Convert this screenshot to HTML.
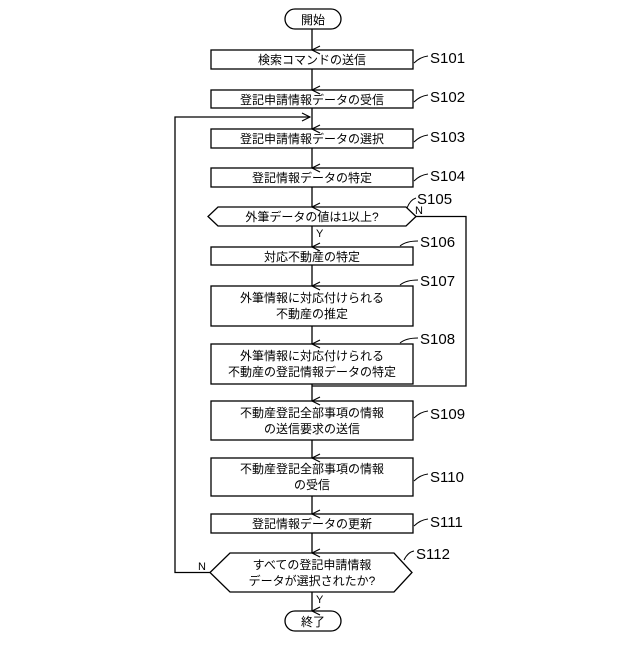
<!DOCTYPE html>
<html><head><meta charset="utf-8"><style>body{margin:0;background:#fff}</style></head><body>
<svg width="640" height="640" xmlns="http://www.w3.org/2000/svg" font-family="'Liberation Sans','Noto Sans CJK JP',sans-serif">
<defs><marker id="a" markerWidth="10" markerHeight="10" refX="5" refY="9" orient="auto" markerUnits="userSpaceOnUse"><path d="M1,1 L5,9 L9,1" fill="none" stroke="#000" stroke-width="1.2"/></marker>
<marker id="r" markerWidth="10" markerHeight="10" refX="9" refY="5" orient="0" markerUnits="userSpaceOnUse"><path d="M1,1 L9,5 L1,9" fill="none" stroke="#000" stroke-width="1.2"/></marker></defs>
<g stroke="#000" stroke-width="1.3" fill="none">
<rect x="285" y="9" width="56" height="20" rx="10"/>
<rect x="285" y="611" width="56" height="20" rx="10"/>
<rect x="211" y="50" width="202" height="19"/>
<rect x="211" y="90" width="202" height="18"/>
<rect x="211" y="129" width="202" height="19"/>
<rect x="211" y="168" width="202" height="19"/>
<path d="M218,207 L406,207 L416,216.5 L406,226 L218,226 L208,216.5 Z"/>
<rect x="211" y="247" width="202" height="18"/>
<rect x="211" y="286" width="202" height="40"/>
<rect x="211" y="344" width="202" height="40"/>
<rect x="211" y="401" width="202" height="39"/>
<rect x="211" y="458" width="202" height="38"/>
<rect x="211" y="514" width="202" height="19"/>
<path d="M230,553 L394,553 L412,572.5 L394,592 L230,592 L210,572.5 Z"/>
<g marker-end="url(#a)">
<line x1="312" y1="29" x2="312" y2="50"/><line x1="312" y1="69" x2="312" y2="90"/>
<line x1="312" y1="108" x2="312" y2="129"/><line x1="312" y1="148" x2="312" y2="168"/>
<line x1="312" y1="187" x2="312" y2="207"/><line x1="312" y1="226" x2="312" y2="247"/>
<line x1="312" y1="265" x2="312" y2="286"/><line x1="312" y1="326" x2="312" y2="344"/>
<line x1="312" y1="384" x2="312" y2="401"/><line x1="312" y1="440" x2="312" y2="458"/>
<line x1="312" y1="496" x2="312" y2="514"/><line x1="312" y1="533" x2="312" y2="553"/>
<line x1="312" y1="592" x2="312" y2="611"/></g>
<polyline points="416,216.5 466,216.5 466,386 312,386"/>
<polyline points="210,572.5 175,572.5 175,117 310,117" marker-end="url(#r)"/>
<g stroke-width="1"><path d="M414,63 Q420,57 428,56"/><path d="M414,102 Q420,96 428,95"/><path d="M414,142 Q420,136 428,135"/><path d="M414,181 Q420,175 428,174"/><path d="M407,208 Q410,200 416,198"/><path d="M400,246 Q406,241 418,241"/><path d="M400,285 Q406,280 418,280"/><path d="M400,343 Q406,338 418,338"/><path d="M414,418 Q420,412 428,411"/><path d="M414,481 Q420,475 428,474"/><path d="M414,526 Q420,520 428,519"/><path d="M404,560 Q408,552 414,551"/></g>
</g>
<g font-size="12" text-anchor="middle" fill="#000">
<text x="313" y="24">開始</text><text x="313" y="626">終了</text>
<text x="312" y="64">検索コマンドの送信</text>
<text x="312" y="104">登記申請情報データの受信</text>
<text x="312" y="143">登記申請情報データの選択</text>
<text x="312" y="182">登記情報データの特定</text>
<text x="312" y="221">外筆データの値は1以上?</text>
<text x="312" y="261">対応不動産の特定</text>
<text x="312" y="302">外筆情報に対応付けられる</text><text x="312" y="318">不動産の推定</text>
<text x="312" y="360">外筆情報に対応付けられる</text><text x="312" y="376">不動産の登記情報データの特定</text>
<text x="312" y="417">不動産登記全部事項の情報</text><text x="312" y="433">の送信要求の送信</text>
<text x="312" y="473">不動産登記全部事項の情報</text><text x="312" y="489">の受信</text>
<text x="312" y="528">登記情報データの更新</text>
<text x="312" y="569">すべての登記申請情報</text><text x="312" y="585">データが選択されたか?</text>
</g>
<g font-size="15" fill="#000">
<text x="430" y="63">S101</text><text x="430" y="102">S102</text><text x="430" y="142">S103</text><text x="430" y="181">S104</text>
<text x="417" y="204">S105</text><text x="420" y="247">S106</text><text x="420" y="286">S107</text><text x="420" y="344">S108</text>
<text x="430" y="419">S109</text><text x="430" y="482">S110</text><text x="430" y="527">S111</text><text x="416" y="559">S112</text>
</g>
<g font-size="11" fill="#000"><text x="415" y="214">N</text><text x="316" y="237">Y</text><text x="198" y="570">N</text><text x="316" y="603">Y</text></g>
</svg></body></html>
